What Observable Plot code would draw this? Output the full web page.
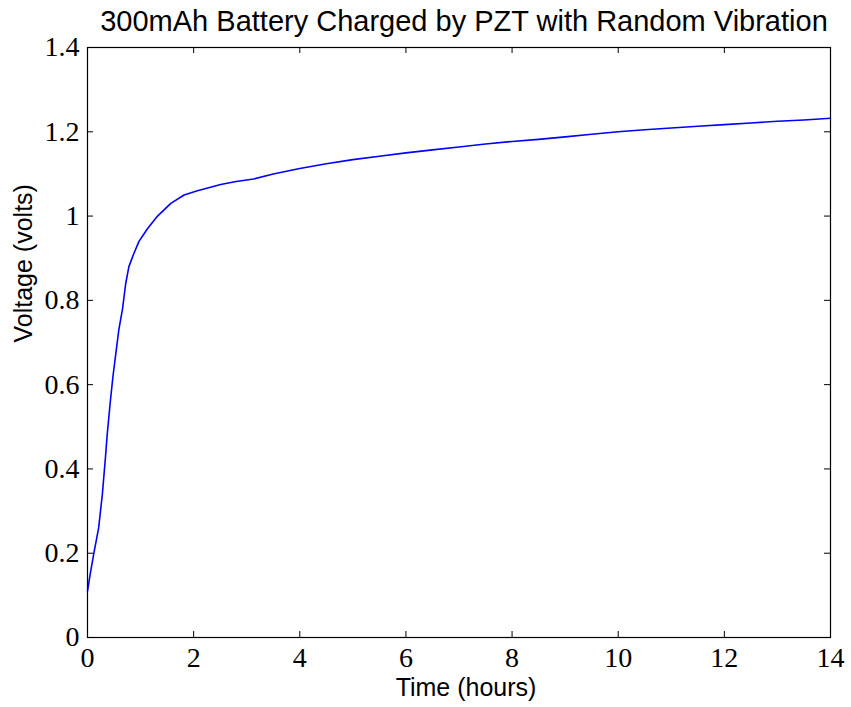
<!DOCTYPE html>
<html>
<head>
<meta charset="utf-8">
<script src="https://cdn.jsdelivr.net/npm/d3@7"></script>
<script src="https://cdn.jsdelivr.net/npm/@observablehq/plot@0.6"></script>
<style>
  html, body { margin: 0; padding: 0; background: #fff; }
  #chart svg { display: block; }
</style>
</head>
<body>
<div id="chart"></div>
<script>
const titleText = "300mAh Battery Charged by PZT with Random Vibration";
const xLabel = "Time (hours)";
const yLabel = "Voltage (volts)";

const xTicks = [0, 2, 4, 6, 8, 10, 12, 14];
const yTicks = [0, 0.2, 0.4, 0.6, 0.8, 1, 1.2, 1.4];

const timeHours = [0, 0.05, 0.12, 0.21, 0.28, 0.34, 0.37, 0.43, 0.48, 0.53, 0.59, 0.66, 0.72, 0.78, 0.87, 0.97, 1.13, 1.32, 1.57, 1.82, 2.07, 2.3, 2.51, 2.8, 3.13, 3.5, 4, 4.5, 5, 5.5, 6, 6.5, 7, 7.5, 8, 8.5, 9, 9.5, 10, 10.5, 11, 11.5, 12, 12.5, 13, 13.5, 14];
const voltage = [0.11, 0.15, 0.20, 0.26, 0.34, 0.43, 0.48, 0.56, 0.62, 0.67, 0.73, 0.78, 0.84, 0.88, 0.91, 0.94, 0.97, 1.00, 1.03, 1.05, 1.06, 1.068, 1.075, 1.082, 1.088, 1.100, 1.113, 1.124, 1.134, 1.142, 1.150, 1.157, 1.164, 1.171, 1.177, 1.182, 1.188, 1.194, 1.200, 1.205, 1.209, 1.213, 1.217, 1.221, 1.225, 1.228, 1.232];

const data = timeHours.map((t, i) => ({t, v: voltage[i]}));

const W = 851, H = 707;
const mL = 87, mR = 21, mT = 47, mB = 70;
const fw = W - mL - mR, fh = H - mT - mB;
const tick = 6;

const chart = Plot.plot({
  width: W,
  height: H,
  marginLeft: mL,
  marginRight: mR,
  marginTop: mT,
  marginBottom: mB,
  style: {background: "#fff", color: "#000"},
  x: {domain: [0, 14]},
  y: {domain: [0, 1.4]},
  marks: [
    Plot.line(data, {x: "t", y: "v", stroke: "#0000ff", strokeWidth: 1.6}),
    Plot.frame({stroke: "#000", strokeWidth: 1.2}),
    Plot.tickX(xTicks, {x: d => d, insetTop: fh - tick, stroke: "#000"}),
    Plot.tickX(xTicks, {x: d => d, insetBottom: fh - tick, stroke: "#000"}),
    Plot.tickY(yTicks, {y: d => d, insetRight: fw - tick, stroke: "#000"}),
    Plot.tickY(yTicks, {y: d => d, insetLeft: fw - tick, stroke: "#000"}),
    Plot.axisX(xTicks, {tickSize: 0, tickPadding: 10, fontSize: 28, fontFamily: "Liberation Serif", label: null, tickFormat: d => String(d)}),
    Plot.axisY(yTicks, {tickSize: 0, tickPadding: 8, fontSize: 28, fontFamily: "Liberation Serif", label: null, tickFormat: d => String(d)}),
    Plot.text([titleText], {text: d => d, frameAnchor: "top", dy: -37, dx: 5, fontSize: 29, fontFamily: "Liberation Sans", fill: "#000"}),
    Plot.text([xLabel], {text: d => d, frameAnchor: "bottom", dy: 58, dx: 7, fontSize: 25, fontFamily: "Liberation Sans", fill: "#000"}),
    Plot.text([yLabel], {text: d => d, frameAnchor: "left", dx: -64, rotate: -90, fontSize: 25, fontFamily: "Liberation Sans", fill: "#000"})
  ]
});
document.getElementById("chart").appendChild(chart);
</script>
</body>
</html>
